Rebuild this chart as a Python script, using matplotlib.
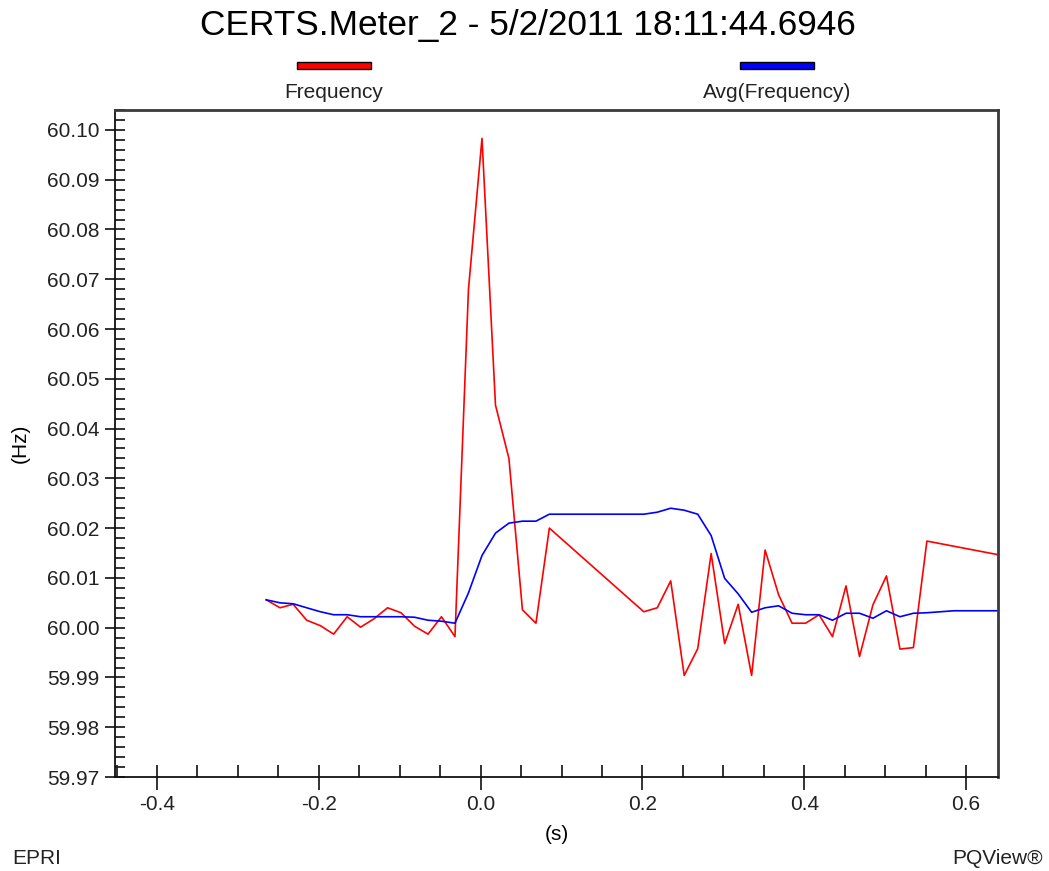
import matplotlib
matplotlib.use("Agg")
import matplotlib.pyplot as plt
from matplotlib.ticker import MultipleLocator, FormatStrFormatter
from matplotlib.patches import Rectangle

plt.rcParams['font.family'] = ['Liberation Sans', 'DejaVu Sans']

# time (s) and frequency (Hz)
t_freq = [-0.265, -0.248, -0.2317, -0.215, -0.198, -0.1817, -0.165, -0.1484,
          -0.1317, -0.115, -0.0984, -0.0817, -0.065, -0.0484, -0.0317, -0.015,
          0.0017, 0.0184, 0.035, 0.0517, 0.0684, 0.085, 0.2017, 0.2184,
          0.235, 0.2517, 0.2684, 0.285, 0.3017, 0.3184, 0.335, 0.3517,
          0.3684, 0.385, 0.4017, 0.4184, 0.435, 0.4517, 0.4684, 0.485,
          0.5017, 0.5184, 0.535, 0.5517, 0.645]
freq = [60.0056, 60.0040, 60.0047, 60.0015, 60.0004, 59.9987, 60.0022, 60.0001,
        60.0018, 60.0040, 60.0030, 60.0003, 59.9987, 60.0022, 59.9982, 60.0680,
        60.0983, 60.0447, 60.0340, 60.0036, 60.0009, 60.0200, 60.0032, 60.0040,
        60.0094, 59.9904, 59.9958, 60.0149, 59.9968, 60.0047, 59.9904, 60.0156,
        60.0066, 60.0009, 60.0009, 60.0026, 59.9982, 60.0084, 59.9942, 60.0046,
        60.0104, 59.9957, 59.9960, 60.0174, 60.0145]

t_avg = [-0.265, -0.248, -0.2317, -0.215, -0.198, -0.1817, -0.165, -0.1484,
         -0.1317, -0.115, -0.0984, -0.0817, -0.065, -0.0484, -0.0317, -0.015,
         0.0017, 0.0184, 0.035, 0.0517, 0.0684, 0.085, 0.2017, 0.2184,
         0.235, 0.2517, 0.2684, 0.285, 0.3017, 0.3184, 0.335, 0.3517,
         0.3684, 0.385, 0.4017, 0.4184, 0.435, 0.4517, 0.4684, 0.485,
         0.5017, 0.5184, 0.535, 0.5517, 0.585, 0.645]
avg_freq = [60.0056, 60.0050, 60.0048, 60.0040, 60.0032, 60.0026, 60.0026, 60.0022,
            60.0022, 60.0022, 60.0022, 60.0021, 60.0015, 60.0013, 60.0009, 60.0070,
            60.0145, 60.0190, 60.0210, 60.0214, 60.0214, 60.0228, 60.0228, 60.0232,
            60.0240, 60.0236, 60.0228, 60.0185, 60.0099, 60.0068, 60.0031, 60.0040,
            60.0044, 60.0029, 60.0026, 60.0026, 60.0015, 60.0029, 60.0029, 60.0019,
            60.0034, 60.0022, 60.0029, 60.0030, 60.0034, 60.0034]

series_names = ['Frequency', 'Avg(Frequency)']
series_colors = ['#ff0000', '#0000ff']

fig = plt.figure(figsize=(10.49, 8.71), dpi=100)
ax = fig.add_axes([0.1096, 0.1079, 0.8421, 0.7658])

ax.plot(t_freq, freq, color=series_colors[0], lw=1.2)
ax.plot(t_avg, avg_freq, color=series_colors[1], lw=1.2)

ax.set_xlim(-0.452, 0.640)
ax.set_ylim(59.97, 60.104)

ax.xaxis.set_major_locator(MultipleLocator(0.2))
ax.xaxis.set_minor_locator(MultipleLocator(0.05))
ax.yaxis.set_major_locator(MultipleLocator(0.01))
ax.yaxis.set_minor_locator(MultipleLocator(0.002))
ax.xaxis.set_major_formatter(FormatStrFormatter('%.1f'))
ax.yaxis.set_major_formatter(FormatStrFormatter('%.2f'))

# tick lengths in points (1 pt = 1.39 px here)
ax.tick_params(which='major', direction='inout', width=1.3,
               labelsize=15, colors='#222222')
ax.tick_params(axis='x', which='major', length=18, pad=4)
ax.tick_params(axis='y', which='major', length=14.5, pad=4)
ax.tick_params(axis='x', which='minor', direction='in', length=8.5, width=1.3, colors='#222222')
ax.tick_params(axis='y', which='minor', direction='in', length=7.2, width=1.3, colors='#222222')
ax.tick_params(top=False, right=False, which='both')

for s in ['top', 'right']:
    ax.spines[s].set_linewidth(2)
    ax.spines[s].set_color('#3a3a3a')
for s in ['left', 'bottom']:
    ax.spines[s].set_linewidth(1.3)
    ax.spines[s].set_color('#111111')

ax.set_xlabel('(s)', fontsize=15, labelpad=8)
ax.set_ylabel('(Hz)', fontsize=15, labelpad=12)

fig.text(0.503, 0.971, 'CERTS.Meter_2 - 5/2/2011 18:11:44.6946',
         ha='center', va='center', fontsize=25.4)

# legend: colored bars with labels underneath
legend_x = [334, 777]
for name, color, cx in zip(series_names, series_colors, legend_x):
    fig.patches.append(Rectangle(((cx - 37) / 1049, 1 - 69 / 871), 74 / 1049, 7 / 871,
                                 transform=fig.transFigure, facecolor=color,
                                 edgecolor='black', lw=1))
    fig.text(cx / 1049, 1 - 93 / 871, name, ha='center', va='center',
             fontsize=15, color='#222222')

fig.text(12 / 1049, 1 - 858 / 871, 'EPRI', ha='left', va='center',
         fontsize=15, color='#222222')
fig.text(1043 / 1049, 1 - 858 / 871, 'PQView®', ha='right', va='center',
         fontsize=15, color='#222222')

fig.savefig('out.png', dpi=100)
